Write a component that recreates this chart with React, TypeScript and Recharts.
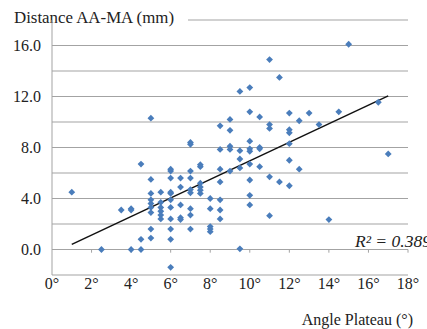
import {
  ScatterChart,
  Scatter,
  XAxis,
  YAxis,
  CartesianGrid,
  ReferenceLine,
  Customized,
} from 'recharts';

// angle plateau (deg) and AA-MA distance (mm)
const angle = [
  1.0, 2.5, 3.5, 4.0, 4.0, 4.0, 4.5, 4.5, 4.5,
  5.0, 5.0, 5.0, 5.0, 5.0, 5.0, 5.0, 5.0, 5.0,
  5.5, 5.5, 5.5, 5.5, 5.5, 5.5,
  6.0, 6.0, 6.0, 6.0, 6.0, 6.0, 6.0, 6.0, 6.0, 6.0, 6.0,
  6.5, 6.5, 6.5, 6.5, 6.5,
  7.0, 7.0, 7.0, 7.0, 7.0, 7.0, 7.0, 7.0, 7.0,
  7.5, 7.5, 7.5, 7.5, 7.5, 7.5,
  8.0, 8.0, 8.0, 8.0, 8.0,
  8.5, 8.5, 8.5, 8.5, 8.5, 8.5, 8.5,
  9.0, 9.0, 9.0, 9.0, 9.0,
  9.5, 9.5, 9.5, 9.5, 9.5,
  10.0, 10.0, 10.0, 10.0, 10.0, 10.0, 10.0, 10.0, 10.0,
  10.5, 10.5, 10.5, 10.5,
  11.0, 11.0, 11.0, 11.0, 11.0,
  11.5, 11.5,
  12.0, 12.0, 12.0, 12.0, 12.0, 12.0,
  12.5, 12.5, 13.0, 13.5, 14.0, 14.5, 15.0, 16.5, 17.0,
];
const distance = [
  4.5, 0.0, 3.1, 3.2, 3.1, 0.0, 6.7, 0.8, 0.0,
  10.3, 5.5, 4.4, 3.9, 3.6, 3.3, 2.9, 1.6, 0.9,
  4.5, 3.7, 3.3, 3.0, 2.7, 2.4,
  6.3, 6.15, 5.6, 4.5, 4.4, 3.9, 3.3, 2.4, 1.6, 0.8, -1.4,
  5.6, 4.9, 3.5, 2.5, 2.35,
  8.4, 8.25, 6.15, 5.6, 4.7, 4.45, 3.2, 2.7, 1.6,
  6.65, 6.5, 5.2, 4.9, 4.65, 4.4,
  4.0, 3.2, 1.8, 1.6, 1.4,
  9.7, 7.85, 6.3, 5.3, 3.9, 3.1, 2.4,
  10.2, 9.35, 8.1, 7.85, 6.15,
  12.4, 7.75, 7.1, 6.4, 0.05,
  12.7, 10.8, 8.5, 7.9, 7.7, 6.7, 5.45, 4.25, 3.5,
  10.4, 8.0, 7.9, 6.5,
  14.9, 9.8, 9.5, 5.7, 2.65,
  13.5, 5.3,
  10.7, 9.4, 9.15, 8.3, 7.0, 5.0,
  10.1, 6.3, 10.7, 9.8, 2.35, 10.8, 16.1, 11.55, 7.5,
];

const xTicks = [0, 2, 4, 6, 8, 10, 12, 14, 16, 18];
const yTicks = [-2, 0, 2, 4, 6, 8, 10, 12, 14, 16, 18];
const yLabelled = [0, 4, 8, 12, 16];
const trend = [
  { x: 1, y: 0.4 },
  { x: 17, y: 12.05 },
];

const points = angle.map((a, i) => ({ x: a, y: distance[i] }));

const FONT = '"Liberation Serif", "Times New Roman", serif';
const GRID = '#a3a3a3';
const BLUE = '#4a7dbb';

const Diamond = (props: any) => {
  const { cx, cy } = props;
  const r = 3.4;
  return (
    <path
      d={`M${cx},${cy - r}L${cx + r},${cy}L${cx},${cy + r}L${cx - r},${cy}Z`}
      fill={BLUE}
    />
  );
};

const Texts = () => (
  <g fontFamily={FONT} fontSize={16} fill="#222">
    <rect x={8} y={3} width={180} height={26} fill="#fff" />
    <text x={14} y={23} textLength={160} lengthAdjust="spacingAndGlyphs">
      Distance AA-MA (mm)
    </text>
    <text x={413} y={325} textAnchor="end">
      Angle Plateau (°)
    </text>
    <text
      x={355}
      y={247}
      fontStyle="italic"
      textLength={76}
      lengthAdjust="spacingAndGlyphs"
    >
      R² = 0.389
    </text>
  </g>
);

export default function App() {
  return (
    <div style={{ position: 'absolute', left: 0, top: 0, background: '#fff' }}>
      <ScatterChart
        width={427}
        height={329}
        margin={{ top: 20, right: 19, left: 0, bottom: 0 }}
      >
        <CartesianGrid vertical={false} stroke={GRID} strokeWidth={1} />
        <XAxis
          type="number"
          dataKey="x"
          domain={[0, 18]}
          ticks={xTicks}
          interval={0}
          height={54}
          axisLine={false}
          tickLine={false}
          tickSize={0}
          tickMargin={3}
          tickFormatter={(v: number) => `${v}°`}
          tick={{ fill: '#222', fontSize: 16, fontFamily: FONT }}
        />
        <YAxis
          type="number"
          dataKey="y"
          domain={[-2, 18]}
          ticks={yTicks}
          interval={0}
          width={52}
          axisLine={{ stroke: GRID }}
          tickLine={false}
          tickSize={0}
          tickMargin={11}
          tickFormatter={(v: number) => (yLabelled.includes(v) ? v.toFixed(1) : '')}
          tick={{ fill: '#222', fontSize: 16, fontFamily: FONT }}
        />
        {xTicks.slice(1).map((t) => (
          <ReferenceLine
            key={t}
            segment={[
              { x: t, y: 0 },
              { x: t, y: -0.25 },
            ]}
            stroke={GRID}
            strokeWidth={1}
          />
        ))}
        <Scatter
          data={points}
          shape={<Diamond />}
          isAnimationActive={false}
        />
        <ReferenceLine
          segment={trend}
          stroke="#111"
          strokeWidth={1.5}
        />
        <Customized component={Texts} />
      </ScatterChart>
    </div>
  );
}
